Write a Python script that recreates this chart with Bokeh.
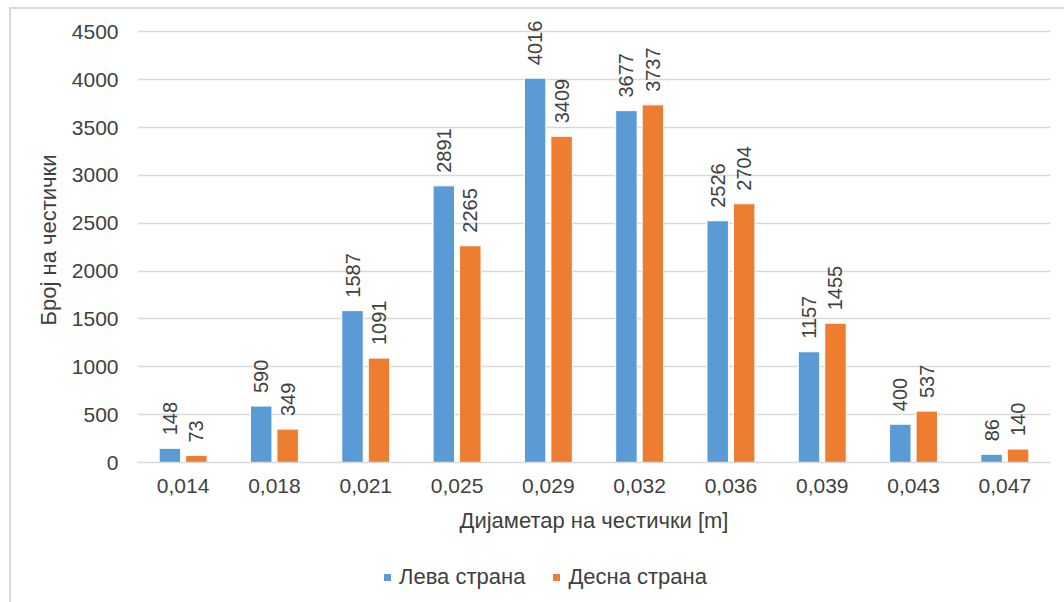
import math

from bokeh.core.properties import value
from bokeh.embed import file_html
from bokeh.layouts import column
from bokeh.models import (ColumnDataSource, FactorRange, FixedTicker, Legend,
                          LegendItem, Range1d)
from bokeh.plotting import figure
from bokeh.resources import INLINE
from bokeh.transform import dodge

# Particle-diameter classes and particle counts on each side
diameters = ["0,014", "0,018", "0,021", "0,025", "0,029",
             "0,032", "0,036", "0,039", "0,043", "0,047"]
left_side = [148, 590, 1587, 2891, 4016, 3677, 2526, 1157, 400, 86]
right_side = [73, 349, 1091, 2265, 3409, 3737, 2704, 1455, 537, 140]
series_names = ["Лева страна", "Десна страна"]
y_ticks = [0, 500, 1000, 1500, 2000, 2500, 3000, 3500, 4000, 4500]

FONT = "Liberation Sans"
TEXT = "#404040"
GRID = "#d9d9d9"
BLUE = "#5B9BD5"
ORANGE = "#ED7D31"

src = ColumnDataSource(dict(
    d=diameters,
    left=left_side,
    right=right_side,
    left_txt=[str(v) for v in left_side],
    right_txt=[str(v) for v in right_side],
))

# headroom above the top tick so the tallest value label is not clipped
Y_END = 4650

chart = figure(
    x_range=FactorRange(factors=diameters, range_padding=0),
    y_range=Range1d(0, Y_END),
    frame_width=913, frame_height=445,
    output_backend="svg", toolbar_location=None,
    min_border_left=126, min_border_right=14,
    min_border_top=8, min_border_bottom=95,
)
chart.outline_line_color = None

OFF = 0.145
BAR_W = 0.235
chart.vbar(x=dodge("d", -OFF, range=chart.x_range), top="left", source=src,
           width=BAR_W, fill_color=BLUE, line_color="white", line_width=1)
chart.vbar(x=dodge("d", OFF, range=chart.x_range), top="right", source=src,
           width=BAR_W, fill_color=ORANGE, line_color="white", line_width=1)

# Vertical value labels above each bar
for col, txt, off in (("left", "left_txt", -OFF), ("right", "right_txt", OFF)):
    chart.text(x=dodge("d", off, range=chart.x_range), y=col, text=txt,
               source=src, angle=math.pi / 2, text_align="left",
               text_baseline="middle", y_offset=-13, text_font=value(FONT),
               text_font_size="20px", text_color=TEXT)

# Axes
chart.yaxis.ticker = FixedTicker(ticks=y_ticks)
chart.yaxis.axis_line_color = None
chart.yaxis.major_tick_out = 0
chart.yaxis.major_tick_in = 0
chart.yaxis.minor_tick_out = 0
chart.yaxis.minor_tick_in = 0
chart.yaxis.major_label_standoff = 19
chart.yaxis.axis_label = "Број на честички"
chart.yaxis.axis_label_standoff = 8

chart.xaxis.axis_line_color = GRID
chart.xaxis.axis_line_width = 1.5
chart.xaxis.major_tick_out = 0
chart.xaxis.major_tick_in = 0
chart.xaxis.major_label_standoff = 16
chart.xaxis.axis_label = "Дијаметар на честички [m]"
chart.xaxis.axis_label_standoff = 12

for ax in (chart.xaxis[0], chart.yaxis[0]):
    ax.major_label_text_font = FONT
    ax.major_label_text_font_size = "21px"
    ax.major_label_text_color = TEXT
    ax.axis_label_text_font = FONT
    ax.axis_label_text_font_size = "22px"
    ax.axis_label_text_font_style = "normal"
    ax.axis_label_text_color = TEXT

chart.xgrid.grid_line_color = None
chart.ygrid.grid_line_color = GRID
chart.ygrid.grid_line_width = 1.5

# Legend strip under the chart; the swatches come from bar renderers that
# sit outside this strip's visible range
key = figure(width=1053, height=45, x_axis_type=None, y_axis_type=None,
             x_range=Range1d(1, 2), y_range=Range1d(1, 2),
             output_backend="svg", toolbar_location=None,
             min_border=0, outline_line_color=None)
key_left = key.vbar(x=[0], top=[0], width=0.1, fill_color=BLUE,
                    line_color="white", line_width=1)
key_right = key.vbar(x=[0], top=[0], width=0.1, fill_color=ORANGE,
                     line_color="white", line_width=1)
key.add_layout(Legend(
    items=[LegendItem(label=series_names[0], renderers=[key_left]),
           LegendItem(label=series_names[1], renderers=[key_right])],
    orientation="horizontal", location=(245, 12),
    glyph_width=10, glyph_height=10, label_standoff=7, spacing=26,
    label_text_font=FONT, label_text_font_size="22px", label_text_color=TEXT,
    border_line_color=None, background_fill_alpha=0,
    margin=0, padding=0,
))

# Chart-area border (top and left edges)
p = column(chart, key, spacing=0,
           styles={"margin-left": "9px", "margin-top": "7px",
                   "border-left": f"2px solid {GRID}",
                   "border-top": f"2px solid {GRID}"})

open("out.html", "w").write(file_html(p, INLINE))
